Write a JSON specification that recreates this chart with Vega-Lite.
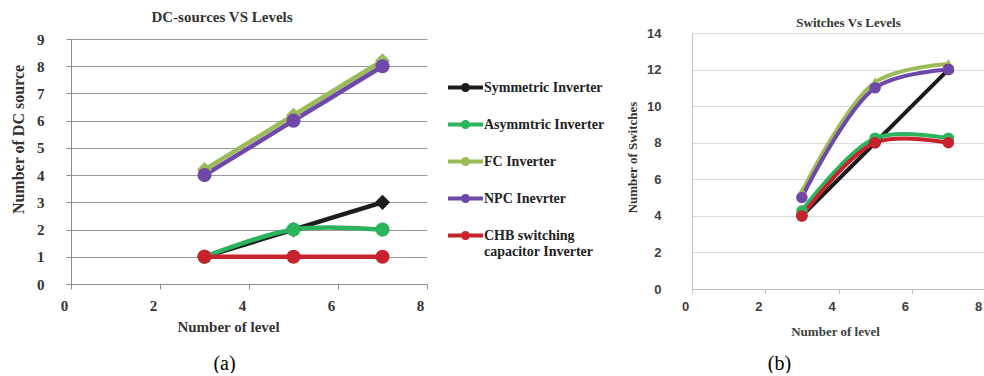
{
  "$schema": "https://vega.github.io/schema/vega-lite/v6.json",
  "background": "white",
  "padding": {"left": 10, "top": 10, "right": 0, "bottom": 0},
  "config": {"view": {"stroke": null}, "font": "Liberation Serif"},
  "datasets": {
    "dc": [
      {"series": "Symmetric Inverter", "level": 3, "value": 1},
      {"series": "Symmetric Inverter", "level": 5, "value": 2},
      {"series": "Symmetric Inverter", "level": 7, "value": 3},
      {"series": "Asymmtric Inverter", "level": 3, "value": 1},
      {"series": "Asymmtric Inverter", "level": 5, "value": 2},
      {"series": "Asymmtric Inverter", "level": 7, "value": 2},
      {"series": "FC Inverter", "level": 3, "value": 4.2},
      {"series": "FC Inverter", "level": 5, "value": 6.2},
      {"series": "FC Inverter", "level": 7, "value": 8.2},
      {"series": "NPC Inevrter", "level": 3, "value": 4},
      {"series": "NPC Inevrter", "level": 5, "value": 6},
      {"series": "NPC Inevrter", "level": 7, "value": 8},
      {"series": "CHB switching capacitor Inverter", "level": 3, "value": 1},
      {"series": "CHB switching capacitor Inverter", "level": 5, "value": 1},
      {"series": "CHB switching capacitor Inverter", "level": 7, "value": 1}
    ],
    "sw": [
      {"series": "Symmetric Inverter", "level": 3, "value": 4},
      {"series": "Symmetric Inverter", "level": 5, "value": 8},
      {"series": "Symmetric Inverter", "level": 7, "value": 12},
      {"series": "Asymmtric Inverter", "level": 3, "value": 4.27},
      {"series": "Asymmtric Inverter", "level": 5, "value": 8.25},
      {"series": "Asymmtric Inverter", "level": 7, "value": 8.25},
      {"series": "FC Inverter", "level": 3, "value": 5.3},
      {"series": "FC Inverter", "level": 5, "value": 11.3},
      {"series": "FC Inverter", "level": 7, "value": 12.3},
      {"series": "NPC Inevrter", "level": 3, "value": 5},
      {"series": "NPC Inevrter", "level": 5, "value": 11},
      {"series": "NPC Inevrter", "level": 7, "value": 12},
      {"series": "CHB switching capacitor Inverter", "level": 3, "value": 4},
      {"series": "CHB switching capacitor Inverter", "level": 5, "value": 8},
      {"series": "CHB switching capacitor Inverter", "level": 7, "value": 8}
    ]
  },
  "resolve": {
    "scale": {"color": "independent", "stroke": "independent"},
    "legend": {"color": "independent", "stroke": "independent"}
  },
  "spacing": 21,
  "hconcat": [
    {
      "width": 356,
      "height": 251,
      "title": {"text": "DC-sources VS Levels", "font": "Liberation Serif", "fontSize": 15, "fontWeight": "bold", "color": "#333333", "anchor": "middle", "dx": -27, "offset": 7},
      "data": {"name": "dc"},
      "resolve": {"axis": {"x": "independent"}},
      "encoding": {
        "x": {"field": "level", "type": "quantitative", "scale": {"domain": [0, 8], "nice": false},
          "axis": {"values": [0, 2, 4, 6, 8], "grid": false, "domainColor": "#8c8c8c", "tickColor": "#8c8c8c", "tickSize": 5,
            "labelFont": "Liberation Serif", "labelFontWeight": "bold", "labelFontSize": 15, "labelColor": "#333333", "labelPadding": 9, "labelOffset": -7, "labelFlush": false,
            "title": "Number of level", "titleFont": "Liberation Serif", "titleFontWeight": "bold", "titleFontSize": 15, "titleColor": "#333333",
            "titleX": 157, "titleY": 47, "titleBaseline": "alphabetic", "titleAlign": "center"}},
        "y": {"field": "value", "type": "quantitative", "scale": {"domain": [0, 9], "nice": false, "range": [251, 6]},
          "axis": {"values": [0, 1, 2, 3, 4, 5, 6, 7, 8, 9], "labelOverlap": false, "grid": true, "gridColor": "#9a9a9a", "gridWidth": 1, "domainColor": "#8c8c8c", "tickColor": "#8c8c8c", "tickSize": 5,
            "labelFont": "Liberation Serif", "labelFontWeight": "bold", "labelFontSize": 15, "labelColor": "#333333", "labelPadding": 22,
            "title": "Number  of DC source", "titleFont": "Liberation Serif", "titleFontWeight": "bold", "titleFontSize": 16, "titleColor": "#333333",
            "titleAngle": 270, "titleAlign": "center", "titleBaseline": "bottom", "titleX": -45, "titleY": 106}}
      },
      "layer": [
        {
          "transform": [{"filter": "datum.series == 'Symmetric Inverter'"}],
          "mark": {"type": "line", "interpolate": "catmull-rom", "strokeWidth": 4.5},
          "encoding": {
            "stroke": {"field": "series", "type": "nominal",
              "scale": {"domain": ["CHB switching capacitor Inverter", "NPC Inevrter", "FC Inverter", "Asymmtric Inverter", "Symmetric Inverter"],
                "range": ["#c8232c", "#6f48a8", "#9bbb59", "#2bb35e", "#1c1c1c"]},
              "legend": null}
          }
        },
        {
          "transform": [{"filter": "datum.series != 'Symmetric Inverter'"}],
          "mark": {"type": "line", "interpolate": "catmull-rom", "strokeWidth": 4.5},
          "encoding": {
            "x": {"field": "level", "type": "quantitative", "scale": {"domain": [0, 8], "nice": false}, "axis": null},
            "stroke": {"field": "series", "type": "nominal",
              "scale": {"domain": ["CHB switching capacitor Inverter", "NPC Inevrter", "FC Inverter", "Asymmtric Inverter", "Symmetric Inverter"],
                "range": ["#c8232c", "#6f48a8", "#9bbb59", "#2bb35e", "#1c1c1c"]},
              "legend": null}
          }
        },
        {
          "transform": [{"filter": "datum.series == 'Symmetric Inverter' || datum.series == 'FC Inverter'"}],
          "mark": {"type": "point", "shape": "diamond", "filled": true, "opacity": 1, "size": 230},
          "encoding": {
            "x": {"field": "level", "type": "quantitative", "scale": {"domain": [0, 8], "nice": false}, "axis": null},
            "color": {"field": "series", "type": "nominal",
              "scale": {"domain": ["Symmetric Inverter", "Asymmtric Inverter", "FC Inverter", "NPC Inevrter", "CHB switching capacitor Inverter"],
                "range": ["#1c1c1c", "#2bb35e", "#9bbb59", "#6f48a8", "#c8232c"]},
              "legend": {"orient": "none", "legendX": 377, "legendY": 37, "title": null,
                "symbolType": "M-1,-0.12H1V0.12H-1Z M-0.26,0A0.26,0.26,0,1,1,0.26,0A0.26,0.26,0,1,1,-0.26,0Z",
                "symbolSize": 1225, "symbolStrokeWidth": 0, "symbolOpacity": 1,
                "labelFont": "Liberation Serif", "labelFontWeight": "bold", "labelFontSize": 14, "labelColor": "#222222",
                "labelOffset": 1, "rowPadding": 12, "labelLimit": 200,
                "labelExpr": "datum.label == 'CHB switching capacitor Inverter' ? ['CHB switching', 'capacitor Inverter'] : datum.label"}}
          }
        },
        {
          "transform": [{"filter": "datum.series != 'Symmetric Inverter' && datum.series != 'FC Inverter'"}],
          "mark": {"type": "point", "shape": "circle", "filled": true, "opacity": 1, "size": 200},
          "encoding": {
            "x": {"field": "level", "type": "quantitative", "scale": {"domain": [0, 8], "nice": false},
              "axis": {"orient": "bottom", "labels": false, "ticks": false, "domain": false, "grid": false,
                "title": "(a)", "titleFont": "Liberation Serif", "titleFontWeight": "normal", "titleFontSize": 20, "titleColor": "#000000",
                "titleX": 153, "titleY": 85, "titleBaseline": "alphabetic", "titleAlign": "center"}},
            "color": {"field": "series", "type": "nominal",
              "scale": {"domain": ["Symmetric Inverter", "Asymmtric Inverter", "FC Inverter", "NPC Inevrter", "CHB switching capacitor Inverter"],
                "range": ["#1c1c1c", "#2bb35e", "#9bbb59", "#6f48a8", "#c8232c"]},
              "legend": {"orient": "none", "legendX": 377, "legendY": 37, "title": null,
                "symbolType": "M-1,-0.12H1V0.12H-1Z M-0.26,0A0.26,0.26,0,1,1,0.26,0A0.26,0.26,0,1,1,-0.26,0Z",
                "symbolSize": 1225, "symbolStrokeWidth": 0, "symbolOpacity": 1,
                "labelFont": "Liberation Serif", "labelFontWeight": "bold", "labelFontSize": 14, "labelColor": "#222222",
                "labelOffset": 1, "rowPadding": 12, "labelLimit": 200,
                "labelExpr": "datum.label == 'CHB switching capacitor Inverter' ? ['CHB switching', 'capacitor Inverter'] : datum.label"}}
          }
        }
      ]
    },
    {
      "width": 293,
      "height": 256,
      "title": {"text": "Switches Vs Levels", "font": "Liberation Serif", "fontSize": 13, "fontWeight": "bold", "color": "#333333", "anchor": "middle", "dx": 10, "offset": -3},
      "data": {"name": "sw"},
      "resolve": {"axis": {"x": "independent"}},
      "encoding": {
        "x": {"field": "level", "type": "quantitative", "scale": {"domain": [0, 8], "nice": false},
          "axis": {"values": [0, 2, 4, 6, 8], "grid": false, "domainColor": "#bfbfbf", "tickColor": "#bfbfbf", "tickSize": 4,
            "labelFont": "Liberation Sans", "labelFontWeight": "bold", "labelFontSize": 13, "labelColor": "#404040", "labelPadding": 7, "labelOffset": -7, "labelFlush": false,
            "title": "Number  of level", "titleFont": "Liberation Serif", "titleFontWeight": "bold", "titleFontSize": 13, "titleColor": "#404040",
            "titleX": 143, "titleY": 46, "titleBaseline": "alphabetic", "titleAlign": "center"}},
        "y": {"field": "value", "type": "quantitative", "scale": {"domain": [0, 14], "nice": false},
          "axis": {"values": [0, 2, 4, 6, 8, 10, 12, 14], "labelOverlap": false, "grid": true, "gridColor": "#d9d9d9", "gridWidth": 1, "domainColor": "#bfbfbf", "ticks": false,
            "labelFont": "Liberation Sans", "labelFontWeight": "bold", "labelFontSize": 13, "labelColor": "#404040", "labelPadding": 31,
            "title": "Number  of Switches", "titleFont": "Liberation Serif", "titleFontWeight": "bold", "titleFontSize": 13, "titleColor": "#333333",
            "titleAngle": 270, "titleAlign": "center", "titleBaseline": "bottom", "titleX": -53, "titleY": 124}}
      },
      "layer": [
        {
          "transform": [{"filter": "datum.series == 'Symmetric Inverter'"}],
          "mark": {"type": "line", "interpolate": "catmull-rom", "strokeWidth": 4},
          "encoding": {
            "stroke": {"field": "series", "type": "nominal",
              "scale": {"domain": ["CHB switching capacitor Inverter", "NPC Inevrter", "FC Inverter", "Asymmtric Inverter", "Symmetric Inverter"],
                "range": ["#c8232c", "#6f48a8", "#9bbb59", "#2bb35e", "#1c1c1c"]},
              "legend": null}
          }
        },
        {
          "transform": [{"filter": "datum.series != 'Symmetric Inverter'"}],
          "mark": {"type": "line", "interpolate": "catmull-rom", "strokeWidth": 4},
          "encoding": {
            "x": {"field": "level", "type": "quantitative", "scale": {"domain": [0, 8], "nice": false}, "axis": null},
            "stroke": {"field": "series", "type": "nominal",
              "scale": {"domain": ["CHB switching capacitor Inverter", "NPC Inevrter", "FC Inverter", "Asymmtric Inverter", "Symmetric Inverter"],
                "range": ["#c8232c", "#6f48a8", "#9bbb59", "#2bb35e", "#1c1c1c"]},
              "legend": null}
          }
        },
        {
          "transform": [{"filter": "datum.series == 'FC Inverter'"}],
          "mark": {"type": "point", "shape": "triangle-up", "filled": true, "opacity": 1, "size": 140},
          "encoding": {
            "x": {"field": "level", "type": "quantitative", "scale": {"domain": [0, 8], "nice": false}, "axis": null},
            "color": {"field": "series", "type": "nominal",
              "scale": {"domain": ["Symmetric Inverter", "Asymmtric Inverter", "FC Inverter", "NPC Inevrter", "CHB switching capacitor Inverter"],
                "range": ["#1c1c1c", "#2bb35e", "#9bbb59", "#6f48a8", "#c8232c"]},
              "legend": null}
          }
        },
        {
          "transform": [{"filter": "datum.series != 'FC Inverter'"}],
          "mark": {"type": "point", "shape": "circle", "filled": true, "opacity": 1, "size": 130},
          "encoding": {
            "x": {"field": "level", "type": "quantitative", "scale": {"domain": [0, 8], "nice": false},
              "axis": {"orient": "bottom", "labels": false, "ticks": false, "domain": false, "grid": false,
                "title": "(b)", "titleFont": "Liberation Serif", "titleFontWeight": "normal", "titleFontSize": 20, "titleColor": "#000000",
                "titleX": 87, "titleY": 80, "titleBaseline": "alphabetic", "titleAlign": "center"}},
            "color": {"field": "series", "type": "nominal",
              "scale": {"domain": ["Symmetric Inverter", "Asymmtric Inverter", "FC Inverter", "NPC Inevrter", "CHB switching capacitor Inverter"],
                "range": ["#1c1c1c", "#2bb35e", "#9bbb59", "#6f48a8", "#c8232c"]},
              "legend": null}
          }
        }
      ]
    }
  ]
}
